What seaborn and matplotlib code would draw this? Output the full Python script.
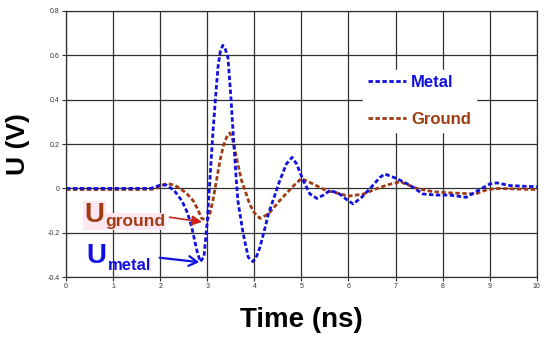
import numpy as np
import pandas as pd
import matplotlib
matplotlib.use("Agg")
import matplotlib.pyplot as plt
from matplotlib.lines import Line2D
import seaborn as sns

# ---- data ----
metal_t = [0, 0.5, 1.0, 1.5, 1.8, 2.0, 2.14, 2.3, 2.46, 2.58, 2.67, 2.78, 2.85, 2.93,
           3.0, 3.06, 3.12, 3.18, 3.23, 3.28, 3.33, 3.38, 3.44, 3.5, 3.55, 3.6, 3.65,
           3.76, 3.87, 3.97, 4.05, 4.12, 4.2, 4.3, 4.42, 4.54, 4.68, 4.8, 4.9, 5.04,
           5.18, 5.33, 5.47, 5.6, 5.78, 5.96, 6.1, 6.28, 6.46, 6.67, 6.77, 7.02, 7.3,
           7.58, 7.87, 8.15, 8.5, 8.75, 9.0, 9.15, 9.43, 9.7, 10.0]
metal_v = [0.0, 0.0, 0.0, 0.0, 0.0, 0.015, 0.015, -0.01, -0.055, -0.11, -0.175, -0.28,
           -0.33, -0.31, -0.15, 0.05, 0.25, 0.42, 0.55, 0.62, 0.645, 0.63, 0.59, 0.42,
           0.25, 0.09, -0.055, -0.2, -0.31, -0.33, -0.305, -0.265, -0.2, -0.115, -0.04,
           0.035, 0.11, 0.14, 0.11, 0.035, -0.025, -0.045, -0.03, -0.01, -0.02, -0.05,
           -0.07, -0.04, 0.0, 0.05, 0.065, 0.045, 0.015, -0.025, -0.03, -0.03, -0.04,
           -0.01, 0.02, 0.025, 0.013, 0.01, 0.008]

ground_t = [0, 0.5, 1.0, 1.5, 1.9, 2.0, 2.15, 2.3, 2.42, 2.55, 2.7, 2.8, 2.88, 3.0,
            3.06, 3.12, 3.2, 3.27, 3.34, 3.41, 3.48, 3.54, 3.59, 3.66, 3.73, 3.82, 3.9,
            4.0, 4.12, 4.3, 4.54, 4.8, 5.0, 5.25, 5.53, 5.74, 6.0, 6.32, 6.67, 6.9,
            7.1, 7.45, 7.8, 8.15, 8.7, 8.95, 9.2, 9.6, 10.0]
ground_v = [-0.005, -0.005, -0.005, -0.005, -0.003, 0.012, 0.022, 0.015, 0.0, -0.02,
            -0.055, -0.095, -0.135, -0.145, -0.11, -0.055, 0.04, 0.125, 0.19, 0.23,
            0.25, 0.22, 0.17, 0.1, 0.035, -0.02, -0.07, -0.11, -0.135, -0.115, -0.055,
            0.005, 0.045, 0.02, -0.01, -0.02, -0.035, -0.025, 0.005, 0.02, 0.03, 0.0,
            -0.015, -0.02, -0.025, -0.005, 0.0, -0.003, -0.005]

series_names = ["Metal", "Ground"]
x_ticks = list(range(0, 11))
y_ticks = [-0.4, -0.2, 0, 0.2, 0.4, 0.6, 0.8]
y_tick_labels = ["-0.4", "-0.2", "0", "0.2", "0.4", "0.6", "0.8"]

BLUE = "#1010e0"
BROWN = "#a03c12"

df = pd.concat([
    pd.DataFrame({"t": metal_t, "v": metal_v, "s": series_names[0]}),
    pd.DataFrame({"t": ground_t, "v": ground_v, "s": series_names[1]}),
])

sns.set_style("white")
plt.rcParams["font.family"] = ["Liberation Sans", "DejaVu Sans"]

fig = plt.figure(figsize=(5.5, 3.43), dpi=100)
ax = fig.add_axes([0.12, 0.192, 0.856, 0.776])

sns.lineplot(data=df, x="t", y="v", hue="s", palette={"Metal": BLUE, "Ground": BROWN},
             hue_order=["Ground", "Metal"], ax=ax, legend=False, linewidth=2.0,
             sort=False, estimator=None)
for ln in ax.get_lines():
    ln.set_dashes((1.6, 0.9))

ax.set_xlim(0, 10)
ax.set_ylim(-0.4, 0.8)
ax.set_xticks(x_ticks)
ax.set_xticklabels([str(v) for v in x_ticks])
ax.set_yticks(y_ticks)
ax.set_yticklabels(y_tick_labels)
ax.grid(True, color="#303030", linewidth=0.9)
ax.set_axisbelow(True)
for sp in ax.spines.values():
    sp.set_color("#303030")
    sp.set_linewidth(0.9)
ax.tick_params(axis="both", which="both", direction="out", length=3, width=0.8,
               color="#303030", labelsize=5, labelcolor="#333333", pad=1.5)
ax.tick_params(bottom=True, left=True)

ax.set_xlabel("Time (ns)", fontsize=20, fontweight="bold", labelpad=12, color="black")
ax.set_ylabel("U (V)", fontsize=19, fontweight="bold", color="black")
ax.yaxis.label.set_va("center")
ax.yaxis.set_label_coords(-0.102, 0.5)

# legend (white box, no frame)
handles = [Line2D([0], [0], color=BLUE, lw=2.0, dashes=(1.6, 0.9)),
           Line2D([0], [0], color=BROWN, lw=2.0, dashes=(1.6, 0.9))]
leg = ax.legend(handles, series_names, loc="upper left", bbox_to_anchor=(0.63, 0.778),
                frameon=True, fancybox=False, edgecolor="white", facecolor="white",
                framealpha=1, handlelength=2.3, handletextpad=0.3, labelspacing=1.3,
                borderpad=0.3, borderaxespad=0, prop={"weight": "bold", "size": 12})
leg.get_texts()[0].set_color(BLUE)
leg.get_texts()[1].set_color(BROWN)

# annotations
pink = dict(boxstyle="square,pad=0.05", facecolor="#ffe6f3", edgecolor="none")
ax.text(0.4, -0.153, "U", color=BROWN, fontsize=20, fontweight="bold", va="baseline", bbox=pink)
ax.text(0.84, -0.170, "ground", color=BROWN, fontsize=12.5, fontweight="bold", va="baseline", bbox=pink)
ax.text(0.44, -0.334, "U", color=BLUE, fontsize=20, fontweight="bold", va="baseline")
ax.text(0.88, -0.370, "metal", color=BLUE, fontsize=12, fontweight="bold", va="baseline")

ax.annotate("", xy=(2.95, -0.153), xytext=(2.14, -0.128),
            arrowprops=dict(arrowstyle="-|>,head_length=0.6,head_width=0.3",
                            color=BROWN, lw=1.2, fc="#e01818", ec="#c02818"))
ax.annotate("", xy=(2.89, -0.334), xytext=(1.93, -0.311),
            arrowprops=dict(arrowstyle="->,head_length=0.6,head_width=0.35",
                            color=BLUE, lw=1.6))

fig.savefig("out.png", dpi=100)
